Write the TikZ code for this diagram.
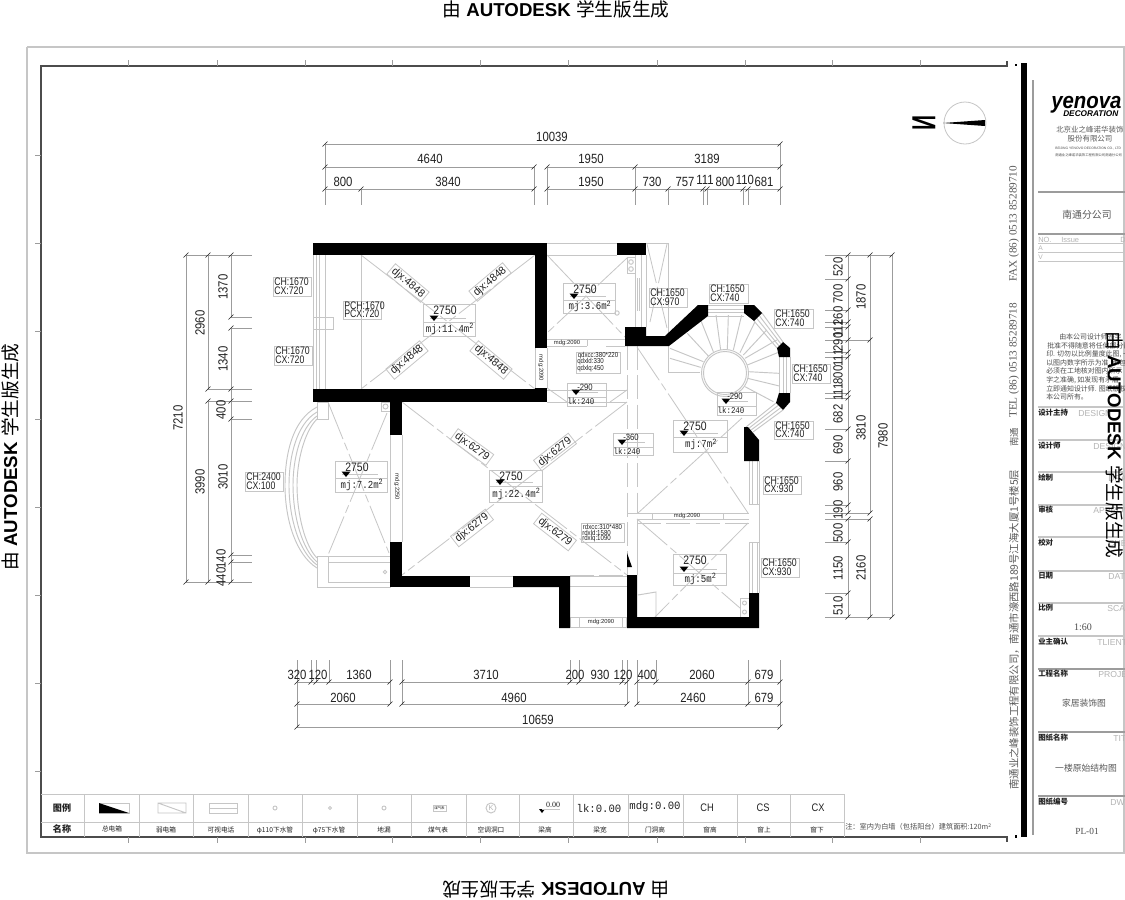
\documentclass[tikz,border=0pt]{standalone}
\usepackage{graphicx}
\usepackage{fontspec}
\setmainfont{Liberation Sans}
\newfontfamily\cjk{Noto Sans CJK SC}
\newfontfamily\ser{Liberation Serif}
\newfontfamily\mon{Liberation Mono}
\definecolor{lg}{HTML}{C6C6C6}
\definecolor{dg}{HTML}{9C9C9C}
\definecolor{tx}{HTML}{222222}
\definecolor{gt}{HTML}{B4B4B4}
\tikzset{
 wall/.style={fill=black,draw=none},
 thn/.style={draw=lg,line width=0.7pt},
 dia/.style={draw=lg,line width=0.6pt,dash pattern=on 30pt off 3pt on 6pt off 3pt},
 dsh/.style={draw=lg,line width=0.7pt,dash pattern=on 18pt off 4pt},
 dim/.style={draw=dg,line width=0.6pt},
 tck/.style={draw=tx,line width=0.5pt},
 dimt/.style={text=tx,font=\fontsize{10}{10}\selectfont,inner sep=0pt},
 lab/.style={text=tx,font=\fontsize{8.2}{8.2}\selectfont,inner sep=0pt},
 smt/.style={text=tx,font=\fontsize{5.4}{5.4}\selectfont,inner sep=0pt},
 leg/.style={text=tx,font=\cjk\fontsize{5}{5}\selectfont,inner sep=0pt},
 tit/.style={text=tx,font=\cjk\bfseries\fontsize{5.6}{5.6}\selectfont,inner sep=0pt,anchor=west},
 eng/.style={text=gt,font=\fontsize{6.5}{6.5}\selectfont,inner sep=0pt,anchor=west},
 wm/.style={text=black,font=\fontsize{14}{14}\selectfont,inner sep=0pt},
 blk/.style={text=tx,inner sep=0pt},
}
\newcommand\DimH[3]{\node[dimt] at (#1,#2) {\scalebox{.85}[1]{#3}};}
\newcommand\DimV[3]{\node[dimt,rotate=90] at (#1,#2) {\scalebox{.85}[1]{#3}};}
\newcommand\tkk[2]{\draw[tck] (#1-2.5,#2+2.5)--(#1+2.5,#2-2.5);}
\newcommand\trimk[2]{\fill[black] (#1-4.5,#2-2.5)--(#1+4.5,#2-2.5)--(#1,#2+3)--cycle;}
% info box: x1 x2 y1 ymid y2 text
\newcommand\infobx[6]{%
 \draw[thn] (#1,#3) rectangle (#2,#5); \draw[thn] (#1,#4)--(#2,#4);
 \draw[thn] (#1+7,#4-4)--(#2-9,#4-4);
 \node[blk,font=\fontsize{9.2}{9.2}\selectfont] at (#1+22,#3+6) {\scalebox{.85}[1]{2750}};
 \trimk{#1+11}{#4-4}
 \node[blk,font=\mon\fontsize{8}{8}\selectfont] at ({(#1+#2)/2+1},{(#4+#5)/2}) {\scalebox{.85}[1]{mj:#6m\textsuperscript{2}}};}
% beam box: x1 x2 y1 ymid y2 num
\newcommand\beambx[6]{%
 \draw[thn] (#1,#3) rectangle (#2,#5); \draw[thn] (#1,#4)--(#2,#4);
 \draw[thn] (#1+6,#4-5)--(#2-8,#4-5);
 \node[blk,font=\fontsize{6.8}{6.8}\selectfont] at (#1+18,#3+4.5) {\scalebox{.85}[1]{#6}};
 \trimk{#1+9}{#4-5}
 \node[blk,font=\mon\fontsize{6.6}{6.6}\selectfont] at (#1+14,{(#4+#5)/2}) {\scalebox{.85}[1]{lk:240}};}
% CH label box x1 x2 y1 y2 l1 l2
\newcommand\chb[6]{%
 \draw[thn] (#1,#3) rectangle (#2,#4);
 \node[lab,anchor=west] at (#1+1,{#3+5.2}) {\scalebox{.8}[1]{#5}};
 \node[lab,anchor=west] at (#1+1,{#4-5.2}) {\scalebox{.8}[1]{#6}};}
% rotated label
\newcommand\djx[4]{\node[lab,draw=lg,line width=.6pt,rotate=#3,minimum width=33pt,minimum height=10pt] at (#1,#2) {\scalebox{.95}[1]{#4}};}
\newcommand\smc[3]{\node[smt] at (#1,#2) {\scalebox{.85}[1]{#3}};}
\begin{document}
\begin{tikzpicture}[x=0.75pt,y=-0.75pt]
\useasboundingbox (0,0) rectangle (1125,900);
\fill[white] (0,0) rectangle (1125,900);
% --- sheet frames
\draw[draw=lg,line width=.8pt] (27,47)--(1125,47) (27,47)--(27,853)--(1125,853);
\draw[draw=lg,line width=.8pt] (1124,47)--(1124,853);
\draw[draw=black!70,line width=1pt] (1007,61)--(1007,66)--(41,66)--(41,837)--(1007,837)--(1007,842);
\fill[black] (1021,63) rectangle (1027,837);
\fill[black] (1014.5,63.5) rectangle (1017,66);
\fill[black] (1014.5,835) rectangle (1017,837.5);
\draw[draw=dg,line width=1.2pt] (1033,80)--(1033,835);
\foreach \x in {128,217,305,392,480,568,657,745,832,920}{
 \draw[draw=dg,line width=.5pt] (\x,837)--(\x,843) (\x,60)--(\x,66);}
\foreach \y in {155,243,331,419,507,595,683,771}{
 \draw[draw=dg,line width=.5pt] (35,\y)--(41,\y);}
% --- north mark
\draw[draw=lg,line width=.6pt] (965,123) circle (21);
\fill[black] (943,123)--(985,120)--(985,126)--cycle;
\node[blk,text=black,rotate=90,font=\bfseries\fontsize{25}{25}\selectfont] (north) at (924,122.5) {\scalebox{-.62}[1]{N}};
% --- room hairlines
\draw[thn] (316,255)--(316,389) (319,255)--(319,389) (325.6,255)--(325.6,389) (313,255)--(313,389);
\draw[thn] (313,317) rectangle (333,329);
\draw[thn] (361,255)--(361,389);
\draw[dia] (361,255)--(535,389) (535,255)--(361,389);
\draw[thn] (535,348)--(535,388) (547,348)--(547,388);
\node[blk,rotate=-90,font=\fontsize{4.4}{4.4}\selectfont,text=tx] at (541,368) {mdg:2090};
% upper small room
\draw[thn] (547,243)--(668,243)--(668,336);
\draw[thn] (547,255)--(617,255);
\draw[thn] (635,255)--(635,327) (641,255)--(641,327) (646,255)--(646,327);
\draw[thn] (637,278)--(637,311) (639,278)--(639,311);
\draw[thn] (627,257) rectangle (635,273);
\draw[thn] (631,262) circle (2.3) (631,269) circle (2.3);
\draw[thn] (617,313) circle (2.2);
\draw[dia] (547,255)--(625,337) (627,258)--(547,333);
\draw[dia] (647,244)--(667,328) (667,244)--(650,322);
\draw[thn] (547,339)--(625,339) (547,346)--(587,346) (606,346)--(625,346) (587,339)--(587,346);
\node[blk,font=\fontsize{4.4}{4.4}\selectfont,text=tx] at (567,342.5) {mdg:2090};
\draw[thn] (547,390)--(627,390) (547,402)--(627,402);
\draw[dia] (547,388)--(567,402) (627,390)--(610,402);
% corridor dashes
\draw[dsh] (627,346)--(627,575) (637,346)--(637,513);
\draw[dia] (637,347)--(748,513) (638,513)--(742,418);
% main room
\draw[dia] (402,402)--(627,575) (627,402)--(402,575);
\draw[thn] (402,576)--(627,576);
\draw[thn] (390,435)--(390,542) (402,435)--(402,542);
\node[blk,rotate=-90,font=\fontsize{4.4}{4.4}\selectfont,text=tx] at (397,487) {mdg:2250};
\draw[thn] (470,587)--(513,587);
% balcony
\draw[thn] (317,402) rectangle (328,419);
\draw[thn] (317,407) .. controls (292,420) and (285,455) .. (285,485) .. controls (285,520) and (296,555) .. (317,568);
\draw[thn] (317,412) .. controls (296,424) and (289,458) .. (289,485) .. controls (289,518) and (299,552) .. (317,565);
\draw[thn] (317,416) .. controls (300,428) and (293,460) .. (293,485) .. controls (293,516) and (302,549) .. (317,562);
\draw[thn] (317,419) .. controls (304,432) and (297,462) .. (297,485) .. controls (297,514) and (305,546) .. (317,558);
\draw[thn] (317,556) rectangle (390,587);
\draw[thn] (328,556)--(328,582)--(390,582) (328,562)--(390,562);
\draw[thn] (385,572) circle (1.8);
\draw[thn] (381,402) rectangle (390,411);
\draw[thn] (385.5,406.5) circle (2.5);
\draw[dia] (328,402)--(389,553) (387,413)--(328,555);
% lower small passage
\draw[dsh] (570,575)--(627,575);
\draw[thn] (570,586)--(627,586);
\draw[thn] (570,617) rectangle (626,627);
\draw[thn] (579,617)--(579,627) (622,617)--(622,627);
\node[blk,font=\fontsize{4.4}{4.4}\selectfont,text=tx] at (601,622) {mdg:2090};
% lower right room
\draw[thn] (627,513)--(749,513) (637,519)--(749,519);
\draw[thn] (652,513)--(652,519) (723,513)--(723,519);
\node[blk,font=\fontsize{4.4}{4.4}\selectfont,text=tx] at (687,516) {mdg:2090};
\draw[dsh] (637,523)--(749,523);
\draw[thn] (637,519)--(637,575);
\draw[dia] (637,519)--(740,608) (748,523)--(655,617);
\draw[thn] (638,595)--(656,592)--(656,617);
\draw[thn] (740,598) rectangle (749,617);
\draw[thn] (744.5,603) circle (2) (744.5,612) circle (2);
\fill[black] (627,553)--(632,567)--(627,567)--cycle;
% right windows
\foreach \x in {749,752,757,759}{\draw[thn] (\x,461)--(\x,504) (\x,542)--(\x,593);}
\draw[thn] (749,504)--(759,504) (749,542)--(759,542);
\draw[thn] (759,504)--(759,542);
\foreach \y in {305,309,312,316}{\draw[thn] (708,\y)--(744,\y);}
\foreach \x in {779,783,786,790}{\draw[thn] (\x,357)--(\x,393);}
\draw[thn] (762,313)--(783,342) (759.3,315.7)--(781,344) (756.7,318.3)--(779,346) (754,321)--(777,348);
\draw[thn] (776,403)--(746,427) (778.3,405.3)--(748.3,428.7) (780.7,407.7)--(750.7,430.3) (783,410)--(753,432);
% stair
\draw[thn] (725,373) circle (23.5) (725,373) circle (21.5);
\draw[thn] (668,346)--(668,372)--(700,372);
\begin{scope}[shift={(610,270)},x=0.25pt,y=-0.25pt]
\draw[thn] (272,150)--(310,245) (232,190)--(295,258) (180,235)--(280,275) (180,265)--(272,292)
 (318,135)--(332,240) (355,135)--(352,238) (395,135)--(370,240) (435,155)--(390,248)
 (470,180)--(400,255) (500,210)--(405,265) (510,245)--(412,285) (508,310)--(414,305) (508,348)--(413,325) (490,395)--(405,350);
\end{scope}
% --- solid walls
\fill[wall] (313,243) rectangle (547,255);
\fill[wall] (535,243) rectangle (547,348);
\fill[wall] (535,388) rectangle (547,402);
\fill[wall] (313,389) rectangle (547,402);
\fill[wall] (390,402) rectangle (402,435);
\fill[wall] (390,542) rectangle (402,587);
\fill[wall] (390,576) rectangle (470,587);
\fill[wall] (513,576)--(570,576)--(570,628)--(559,628)--(559,587)--(513,587)--cycle;
\fill[wall] (627,575)--(637,575)--(637,617)--(749,617)--(749,593)--(759,593)--(759,628)--(627,628)--cycle;
\fill[wall] (617,243) rectangle (646,255);
\fill[wall] (625,327)--(646,327)--(646,336)--(665,336)--(698,305)--(708,305)--(708,316)--(669,346)--(625,346)--cycle;
\fill[wall] (744,305)--(754,305)--(762,313)--(754,321)--(744,313)--cycle;
\fill[wall] (783,342)--(790,348)--(790,357)--(779,357)--(777,348)--cycle;
\fill[wall] (779,393)--(790,393)--(790,402)--(783,410)--(776,403)--cycle;
\fill[wall] (744,427)--(748,427)--(759,440)--(759,461)--(744,461)--cycle;
% --- info boxes
\infobx{423}{475}{304}{322}{336}{11.4}
\infobx{563}{615}{283}{300}{313}{3.6}
\infobx{335}{387}{461}{478}{492}{7.2}
\infobx{489}{542}{470}{486}{502}{22.4}
\infobx{673}{727}{420}{437}{452}{7}
\infobx{673}{726}{554}{573}{585}{5}
\beambx{567}{606}{383}{397}{406}{-290}
\beambx{717}{756}{392}{406}{415}{-290}
\beambx{613}{653}{433}{447}{455}{-360}
% --- CH labels
\chb{273}{311}{277}{296}{CH:1670}{CX:720}
\chb{274}{312}{346}{365}{CH:1670}{CX:720}
\chb{343}{381}{301}{319}{PCH:1670}{PCX:720}
\chb{245}{283}{472}{491}{CH:2400}{CX:100}
\chb{649}{687}{288}{307}{CH:1650}{CX:970}
\chb{709}{748}{284}{303}{CH:1650}{CX:740}
\chb{774}{813}{309}{328}{CH:1650}{CX:740}
\chb{792}{830}{364}{383}{CH:1650}{CX:740}
\chb{774}{813}{421}{439}{CH:1650}{CX:740}
\chb{763}{801}{476}{494}{CH:1650}{CX:930}
\chb{761}{799}{558}{577}{CH:1650}{CX:930}
% --- diagonal labels
\djx{408}{283}{-40}{djx:4848}
\djx{490}{282}{40}{djx:4848}
\djx{407}{360}{40}{djx:4848}
\djx{491}{360}{-40}{djx:4848}
\djx{472}{447}{-36}{djx:6279}
\djx{555}{452}{38}{djx:6279}
\djx{472}{528}{38}{djx:6279}
\djx{555}{532}{-38}{djx:6279}
% --- opening boxes
\draw[thn] (576,352) rectangle (620,373);
\smc{598}{355.5}{qdxcc:380*220}
\node[smt,anchor=west] at (577,362) {\scalebox{.85}[1]{qdxld:330}};
\node[smt,anchor=west] at (577,369) {\scalebox{.85}[1]{qdxlq:450}};
\draw[thn] (581,523) rectangle (624,542);
\smc{602.5}{526.5}{rdxcc:310*480}
\node[smt,anchor=west] at (582,532.5) {\scalebox{.85}[1]{rdxld:1580}};
\node[smt,anchor=west] at (582,538.5) {\scalebox{.85}[1]{rdxlq:1090}};
% --- top dimensions
\draw[dim] (325,144)--(780,144);
\draw[dim] (325,167)--(534,167) (547,167)--(780,167);
\draw[dim] (325,189)--(534,189) (547,189)--(780,189);
\draw[dim] (325,144)--(325,205) (780,144)--(780,205);
\foreach \x in {534,547,635}{\draw[dim] (\x,167)--(\x,205);}
\foreach \x in {361,668,703,707,743,748}{\draw[dim] (\x,189)--(\x,205);}
\foreach \x in {325,780}{\tkk{\x}{144}}
\foreach \x in {325,534,547,635,780}{\tkk{\x}{167}}
\foreach \x in {325,361,534,547,635,668,703,707,743,748,780}{\tkk{\x}{189}}
\DimH{552}{137}{10039}
\DimH{430}{159}{4640}\DimH{591}{159}{1950}\DimH{707}{159}{3189}
\DimH{343}{182}{800}\DimH{448}{182}{3840}\DimH{591}{182}{1950}\DimH{652}{182}{730}\DimH{685}{182}{757}
\DimH{705}{180}{111}\DimH{725}{182}{800}\DimH{745}{180}{110}\DimH{764}{182}{681}
% --- bottom dimensions
\draw[dim] (297,682)--(390,682) (402,682)--(627,682) (637,682)--(780,682);
\draw[dim] (297,704)--(390,704) (402,704)--(627,704) (637,704)--(780,704);
\draw[dim] (297,727)--(780,727);
\draw[dim] (297,660)--(297,727) (780,660)--(780,727);
\foreach \x in {390,402,627,637,748}{\draw[dim] (\x,660)--(\x,704);}
\foreach \x in {311,316,329,570,579,622,656}{\draw[dim] (\x,660)--(\x,682);}
\foreach \x in {297,311,316,329,390,402,570,579,622,627,637,656,748,780}{\tkk{\x}{682}}
\foreach \x in {297,390,402,627,637,748,780}{\tkk{\x}{704}}
\foreach \x in {297,780}{\tkk{\x}{727}}
\DimH{297}{675}{320}\DimH{318}{675}{120}\DimH{359}{675}{1360}\DimH{486}{675}{3710}\DimH{575}{675}{200}
\DimH{600}{675}{930}\DimH{623}{675}{120}\DimH{647}{675}{400}\DimH{702}{675}{2060}\DimH{764}{675}{679}
\DimH{343}{698}{2060}\DimH{514}{698}{4960}\DimH{693}{698}{2460}\DimH{764}{698}{679}
\DimH{538}{720}{10659}
% --- left dimensions
\draw[dim] (186,255)--(186,582);
\draw[dim] (208,255)--(208,389) (208,401)--(208,582);
\draw[dim] (231,255)--(231,317) (231,328)--(231,582);
\foreach \y in {255,389,401,582}{\draw[dim] (231,\y)--(252,\y);}
\foreach \y in {317,328,419,555,562}{\draw[dim] (231,\y)--(252,\y);}
\draw[dim] (186,255)--(231,255) (186,582)--(231,582) (208,389)--(231,389) (208,401)--(231,401);
\foreach \y in {255,582}{\tkk{186}{\y}}
\foreach \y in {255,389,401,582}{\tkk{208}{\y}}
\foreach \y in {255,317,328,389,401,419,555,562,582}{\tkk{231}{\y}}
\DimV{178}{418}{7210}\DimV{200}{323}{2960}\DimV{200}{482}{3990}\DimV{223}{287}{1370}\DimV{223}{359}{1340}
\DimV{221}{410}{400}\DimV{223}{477}{3010}\DimV{221}{559}{140}\DimV{221}{577}{440}
% --- right dimensions
\draw[dim] (848,255)--(848,340) (848,340)--(848,513) (848,519)--(848,617);
\draw[dim] (870,255)--(870,340) (870,340)--(870,513) (870,519)--(870,617);
\draw[dim] (892,255)--(892,617);
\foreach \y in {279,310,322,327,352,357,393,398,429,461,505}{\draw[dim] (825,\y)--(848,\y);}
\foreach \y in {340,513,519}{\draw[dim] (825,\y)--(870,\y);}
\foreach \y in {542,593}{\draw[dim] (825,\y)--(848,\y);}
\foreach \y in {255,617}{\draw[dim] (825,\y)--(892,\y);}
\foreach \y in {255,279,310,322,327,340,352,357,393,398,429,461,505,513,519,542,593,617}{\tkk{848}{\y}}
\foreach \y in {255,340,513,519,617}{\tkk{870}{\y}}
\foreach \y in {255,617}{\tkk{892}{\y}}
\DimV{838}{267}{520}\DimV{838}{294}{700}\DimV{838}{316}{260}\DimV{838}{329}{111}\DimV{838}{342}{290}
\DimV{838}{358}{111}\DimV{838}{375}{800}\DimV{838}{392}{111}\DimV{838}{414}{682}\DimV{838}{445}{690}
\DimV{838}{482}{960}\DimV{838}{510}{190}\DimV{838}{533}{500}\DimV{838}{568}{1150}\DimV{838}{606}{510}
\DimV{861}{297}{1870}\DimV{861}{428}{3810}\DimV{861}{568}{2160}
\DimV{883}{436}{7980}
% --- legend
\draw[thn] (41,794)--(844,794) (41,822)--(844,822);
\foreach \x in {84,139,193,248,302,357,411,466,519,573,628,683,737,790,844}{\draw[thn] (\x,794)--(\x,837);}
\node[leg,font=\cjk\bfseries\fontsize{6.8}{6.8}\selectfont] at (62,808) {图例};
\node[leg,font=\cjk\bfseries\fontsize{6.8}{6.8}\selectfont] at (62,829) {名称};
\node[leg] at (112,829) {总电箱};
\node[leg] at (166,830) {弱电箱};
\node[leg] at (221,829.5) {可视电话};
\node[leg] at (275,830) {φ110下水管};
\node[leg] at (329,830) {φ75下水管};
\node[leg] at (384,829.5) {地漏};
\node[leg] at (438,829.5) {煤气表};
\node[leg] at (491,829.5) {空调洞口};
\node[leg] at (545,829.5) {梁高};
\node[leg] at (600,829.5) {梁宽};
\node[leg] at (655,829.5) {门洞高};
\node[leg] at (710,829.5) {窗高};
\node[leg] at (764,829.5) {窗上};
\node[leg] at (817,829.5) {窗下};
\draw[thn] (99,803) rectangle (129,813);
\fill[black] (99,803)--(129,813)--(99,813)--cycle;
\draw[thn] (158,803) rectangle (186,813) (158,803)--(186,813);
\draw[thn] (209,803) rectangle (237,813) (209,808)--(237,808);
\draw[thn] (275,808) circle (2);
\draw[thn] (330,808) circle (1.5);
\draw[thn] (384,808) circle (2);
\draw[thn] (433,805) rectangle (446,811);
\node[blk,font=\cjk\fontsize{2.6}{2.6}\selectfont] at (439.5,808) {煤气表};
\draw[thn] (491,808) circle (5);
\node[blk,text=gt,font=\fontsize{5.5}{5.5}\selectfont] at (491,808) {K};
\fill[black] (539,809)--(545,809)--(542,813)--cycle;
\draw[thn] (542,809)--(560,809);
\node[blk,font=\ser\fontsize{6}{6}\selectfont] at (553,805) {0.00};
\node[blk,font=\mon\fontsize{8.4}{8.4}\selectfont] at (599,808) {\scalebox{.95}[1]{lk:0.00}};
\node[blk,font=\mon\fontsize{8.4}{8.4}\selectfont] at (655,807) {\scalebox{.95}[1]{mdg:0.00}};
\node[lab] at (707,808) {\scalebox{.85}[1]{CH}};
\node[lab] at (763,808) {\scalebox{.85}[1]{CS}};
\node[lab] at (818,808) {\scalebox{.85}[1]{CX}};
\node[leg,anchor=west,text=black!70,font=\cjk\fontsize{5.4}{5.4}\selectfont] at (845,827) {注：室内为白墙（包括阳台）建筑面积:120m\textsuperscript{2}};
% --- vertical address strip
\node[blk,rotate=90,anchor=west,text=black!65,font=\cjk\fontsize{7.8}{7.8}\selectfont] at (1014,790) {南通业之峰装饰工程有限公司，南通市濠西路189号江海大厦1号楼5层};
\node[blk,rotate=90,anchor=west,text=black!65,font=\cjk\fontsize{7}{7}\selectfont] at (1014,447) {南通};
\node[blk,rotate=90,anchor=west,text=black!65,font=\ser\fontsize{8.4}{8.4}\selectfont] at (1014,418) {TEL (86) 0513 85289718};
\node[blk,rotate=90,anchor=west,text=black!65,font=\ser\fontsize{8.4}{8.4}\selectfont] at (1014,282) {FAX (86) 0513 85289710};
% --- title block
\node[blk,anchor=west,text=black,font=\bfseries\itshape\fontsize{17}{17}\selectfont] (logo) at (1051,105) {\scalebox{.9}[1]{yenova}};
\node[blk,anchor=west,text=black,font=\bfseries\itshape\fontsize{6.2}{6.2}\selectfont] at (1063,113.5) {DECORATION};
\node[blk,text=black!65,font=\cjk\fontsize{5.6}{5.6}\selectfont,anchor=west] at (1056,130) {北京业之峰诺华装饰};
\node[blk,text=black!65,font=\cjk\fontsize{5.6}{5.6}\selectfont] at (1090,139) {股份有限公司};
\node[blk,text=black!70,font=\fontsize{2.5}{2.5}\selectfont,anchor=west] at (1055,148.5) {BEIJING YENOVO DECORATION CO., LTD};
\node[blk,text=black!70,font=\cjk\fontsize{2.5}{2.5}\selectfont,anchor=west] at (1055,155) {南通业之峰诺华装饰工程有限公司南通分公司};
\draw[draw=dg,line width=1pt] (1038,192)--(1125,192);
\node[blk,text=black!65,font=\cjk\fontsize{7.4}{7.4}\selectfont] at (1087,215) {南通分公司};
\draw[draw=dg,line width=.8pt] (1038,234)--(1125,234);
\draw[thn] (1038,243)--(1125,243) (1038,252)--(1125,252) (1038,261)--(1125,261);
\node[eng,font=\fontsize{5.6}{5.6}\selectfont] at (1038,239.5) {NO.};
\node[eng,font=\fontsize{5.6}{5.6}\selectfont] at (1061,239.5) {Issue};
\node[eng,font=\fontsize{5.6}{5.6}\selectfont] at (1120,239.5) {D};
\node[eng,font=\fontsize{5}{5}\selectfont] at (1038,248) {A};
\node[eng,font=\fontsize{5}{5}\selectfont] at (1038,257) {V};
\begin{scope}[every node/.style={blk,anchor=west,text=black!70,font=\cjk\fontsize{5.2}{5.2}\selectfont}]
\node at (1059,337) {由本公司设计师签字};
\node at (1047,346) {批准不得随意将任何部分翻};
\node at (1046,354) {印. 切勿以比例量度此图, 一};
\node at (1046,363) {以图内数字所示为准, 承包};
\node at (1046,371) {必须在工地核对图内所示};
\node at (1046,380) {字之准确, 如发现有矛盾};
\node at (1046,389) {立即通知设计师. 图纸版权};
\node at (1046,397) {本公司所有。};
\end{scope}
\foreach \y in {407,440,472,505,537,571,603,636}{\draw[draw=lg,line width=.9pt] (1038,\y)--(1125,\y);}
\foreach \y in {669,732,796}{\draw[draw=dg,line width=1pt] (1038,\y)--(1125,\y);}
\node[tit] at (1038,413) {设计主持};\node[eng] at (1078,413.5) {DESIGN};
\node[tit] at (1038,446) {设计师};\node[eng] at (1093,446.5) {DESIGN};
\node[tit] at (1038,478) {绘制};\node[eng] at (1108,478.5) {DRAWN};
\node[tit] at (1038,510) {审核};\node[eng] at (1093,510.5) {APPROVED};
\node[tit] at (1038,543) {校对};\node[eng] at (1108,543.5) {CHECK};
\node[tit] at (1038,576) {日期};\node[eng] at (1108,576.5) {DATE};
\node[tit] at (1038,608) {比例};\node[eng] at (1107,608.5) {SCALE};
\node[tit] at (1038,642) {业主确认};\node[eng] at (1097,642.5) {TLIENTE};
\node[tit] at (1038,674) {工程名称};\node[eng] at (1098,674.5) {PROJECT};
\node[tit] at (1038,738) {图纸名称};\node[eng] at (1113,738.5) {TITLE};
\node[tit] at (1038,802) {图纸编号};\node[eng] at (1110,802.5) {DWG};
\node[blk,text=black!70,font=\ser\fontsize{7.5}{7.5}\selectfont] at (1083,627) {1:60};
\node[blk,text=black!65,font=\cjk\fontsize{6.6}{6.6}\selectfont] at (1084,703) {家居装饰图};
\node[blk,text=black!65,font=\cjk\fontsize{6.6}{6.6}\selectfont] at (1086,768) {一楼原始结构图};
\node[blk,text=black!70,font=\ser\fontsize{7}{7}\selectfont] at (1087,831) {PL-01};
% --- watermarks
\node[wm] (wmt) at (556,9) {{\cjk 由} \textbf{AUTODESK} {\cjk 学生版生成}};
\node[wm,rotate=180] (wmb) at (556,890) {{\cjk 由} \textbf{AUTODESK} {\cjk 学生版生成}};
\node[wm,rotate=90] (wml) at (10,457) {{\cjk 由} \textbf{AUTODESK} {\cjk 学生版生成}};
\node[wm,rotate=-90] (wmr) at (1115,445) {{\cjk 由} \textbf{AUTODESK} {\cjk 学生版生成}};
\end{tikzpicture}
\end{document}
